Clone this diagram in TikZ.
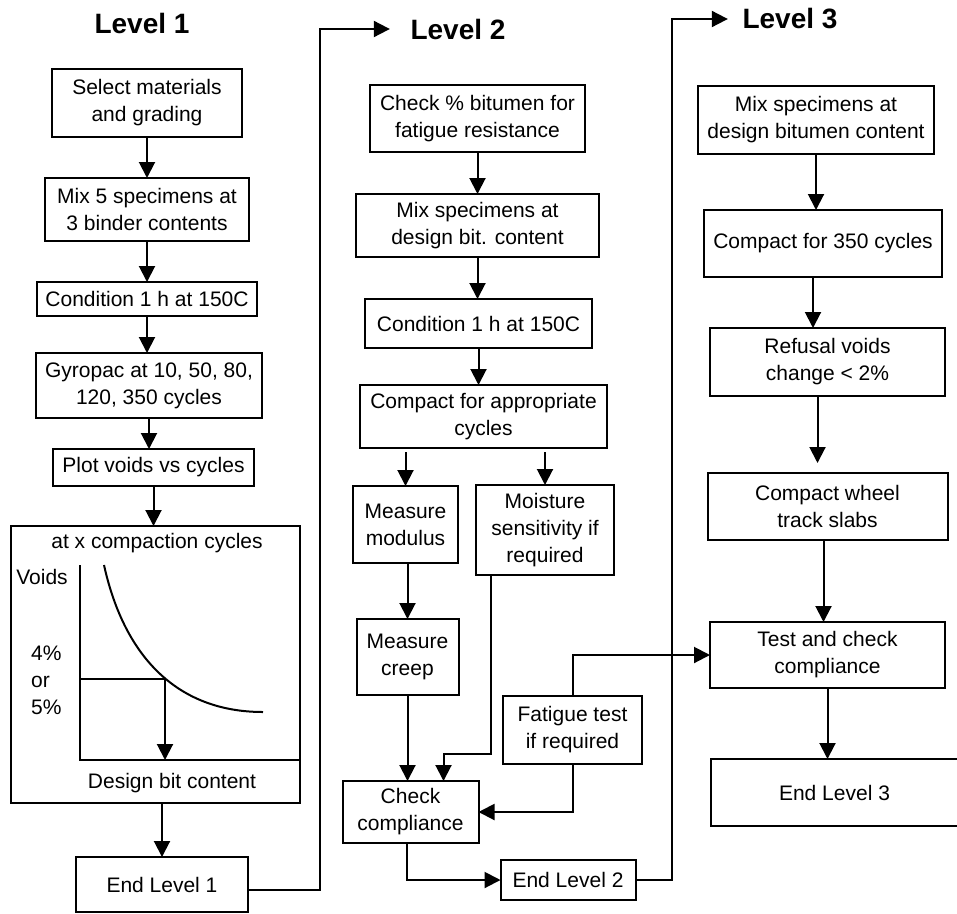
\documentclass[tikz,border=0pt]{standalone}
\usepackage{fontspec}
\setmainfont{Liberation Sans}
\usetikzlibrary{arrows.meta, positioning}
\tikzset{
    box/.style={rectangle, draw=black, line width=2pt, fill=white, align=center, inner sep=2pt, outer sep=0pt, font=\fontsize{21}{27}\selectfont},
    title/.style={inner sep=0pt, font=\fontsize{28}{34}\selectfont\bfseries},
    txt/.style={inner sep=0pt, align=center, font=\fontsize{21}{27}\selectfont},
    link/.style={line width=2pt, draw=black},
    arrow/.style={-{Triangle[length=16pt, width=16pt]}, line width=2pt, draw=black}
}
\begin{document}
\begin{tikzpicture}[x=1pt, y=-1pt]
    \fill[white] (0,0) rectangle (957,913);
    \useasboundingbox (0,0) rectangle (957,913);
    % Level 1
    \node[title] (L1) at (142,23) {Level 1};
    \node[box, minimum width=190pt, minimum height=68pt] (select) at (147,103) {Select materials\\and grading};
    \node[box, minimum width=204pt, minimum height=63pt, below=41pt of select] (mix5) {Mix 5 specimens at\\3 binder contents};
    \node[box, minimum width=220pt, minimum height=34pt, below=41pt of mix5] (cond1) {Condition 1 h at 150C};
    \node[box, minimum width=226pt, minimum height=65pt, below=37pt of cond1, xshift=2pt] (gyro) {Gyropac at 10, 50, 80,\\120, 350 cycles};
    \node[box, minimum width=201pt, minimum height=37pt, below=31pt of gyro, xshift=4.5pt] (plot) {Plot voids vs cycles};
    \node[box, minimum width=289pt, minimum height=277pt, below=40pt of plot, xshift=2pt] (chart) {};
    \node[box, minimum width=172pt, minimum height=55pt, below=54pt of chart, xshift=6.5pt] (end1) {End Level 1};
    % voids chart
    \node[txt] (chartcap) at (157,543) {at x compaction cycles};
    \node[txt] (voids) at (42,577) {Voids};
    \node[txt, align=left, anchor=west] (target) at (31,680) {4\%\\or\\5\%};
    \node[txt] (design) at (172,783) {Design bit content};
    \coordinate (orig) at (80,760);
    \coordinate (hit) at (165,679);
    \draw[link] (80,565) -- (orig) -- (chart.east |- orig);
    \draw[link] (104,565) .. controls (125,660) and (180,712) .. (263,712);
    \draw[link] (hit -| orig) -- (hit);
    \draw[arrow] (hit) -- (hit |- orig);
    \draw[arrow] (select) -- (mix5);
    \draw[arrow] (mix5) -- (cond1);
    \draw[arrow] (cond1) -- (cond1 |- gyro.north);
    \draw[arrow] (gyro) -- (gyro |- plot.north);
    \draw[arrow] (plot) -- (plot |- chart.north);
    \draw[arrow] (end1.north |- chart.south) -- (end1);

    % Level 2
    \node[title] (L2) at (458,29) {Level 2};
    \node[box, minimum width=215pt, minimum height=67pt] (fatchk) at (477.5,118.5) {Check \% bitumen for\\fatigue resistance};
    \node[box, minimum width=243pt, minimum height=63pt, below=42pt of fatchk] (mixdes) {Mix specimens at\\design bit. content};
    \node[box, minimum width=227pt, minimum height=49pt, below=42pt of mixdes, xshift=1pt] (cond2) {Condition 1 h at 150C};
    \node[box, minimum width=247pt, minimum height=63pt, below=37pt of cond2, xshift=5pt] (compapp) {Compact for appropriate\\cycles};
    \node[box, minimum width=105pt, minimum height=77pt, below=38pt of compapp, xshift=-78pt] (modulus) {Measure\\modulus};
    \node[box, minimum width=138pt, minimum height=90pt, below=37pt of compapp, xshift=61.5pt] (moist) {Moisture\\sensitivity if\\required};
    \node[box, minimum width=102pt, minimum height=76pt, below=56pt of modulus, xshift=2pt] (creep) {Measure\\creep};
    \node[box, minimum width=136pt, minimum height=62pt, below=86pt of creep, xshift=3pt] (chk2) {Check\\compliance};
    \node[box, minimum width=139pt, minimum height=68pt, below=121pt of moist, xshift=27.5pt] (fatigue) {Fatigue test\\if required};
    \node[box, minimum width=135pt, minimum height=40pt, below right=17pt and 22pt of chk2] (end2) {End Level 2};
    \draw[arrow] ([yshift=-5pt]end1.east) -| ([xshift=-90.5pt]L2.west) -- ([xshift=-20.5pt]L2.west);
    \draw[arrow] (fatchk) -- (mixdes);
    \draw[arrow] (mixdes) -- (mixdes |- cond2.north);
    \draw[arrow] (cond2) -- (cond2 |- compapp.north);
    \draw[arrow, shorten <=4pt] (modulus.north |- compapp.south) -- (modulus);
    \draw[arrow, shorten <=4pt] (moist.north |- compapp.south) -- (moist);
    \draw[arrow] (creep.north |- modulus.south) -- (creep);
    \draw[arrow] (creep) -- (creep |- chk2.north);
    \draw[arrow] ([xshift=15pt]moist.south west) -- ++(0,179) -| ([xshift=33pt]chk2.north);
    \draw[arrow] (fatigue.south) |- (chk2.east);
    \draw[arrow] ([xshift=-4pt]chk2.south) |- (end2.west);

    % Level 3
    \node[title] (L3) at (790,19) {Level 3};
    \node[box, minimum width=236pt, minimum height=68pt] (mixbit) at (816,120) {Mix specimens at\\design bitumen content};
    \node[box, minimum width=238pt, minimum height=67pt, below=56pt of mixbit, xshift=7pt] (comp350) {Compact for 350 cycles};
    \node[box, minimum width=235pt, minimum height=68pt, below=51pt of comp350, xshift=4.5pt] (refusal) {Refusal voids\\change < 2\%};
    \node[box, minimum width=240pt, minimum height=67pt, below=77pt of refusal] (slabs) {Compact wheel\\track slabs};
    \node[box, minimum width=235pt, minimum height=66pt, below=82pt of slabs] (test3) {Test and check\\compliance};
    \node[box, minimum width=247pt, minimum height=67pt, below=71pt of test3, xshift=7pt] (end3) {End Level 3};
    \draw[arrow] (fatigue.north) |- (test3.west);
    \draw[arrow] (end2.east) -| ([xshift=-70.5pt]L3.west) -- ([xshift=-14.5pt]L3.west);
    \draw[arrow] (mixbit) -- (mixbit |- comp350.north);
    \draw[arrow] ([xshift=-10pt]comp350.south) -- ++(0,51);
    \draw[arrow, shorten >=10pt] ([xshift=-10pt]refusal.south) -- ++(0,77);
    \draw[arrow] ([xshift=-4pt]slabs.south) -- ++(0,82);
    \draw[arrow] (test3) -- (test3 |- end3.north);
\end{tikzpicture}
\end{document}
